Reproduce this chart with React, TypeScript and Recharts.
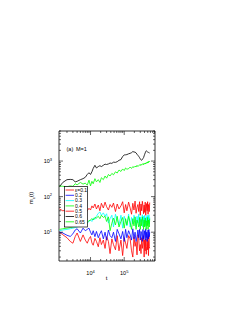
import React from 'react';
import { LineChart, Line, XAxis, YAxis, Legend, ReferenceArea } from 'recharts';

// time points
const T = [
  1200, 1500, 2000, 2500, 3000, 3500, 4000, 5000, 6000, 7000, 8000, 9000, 10000, 11000, 12000, 13500,
  15000, 17000, 19000, 21000, 24000, 27000, 30000, 34000, 38000, 43000, 48000, 55000, 62000, 70000,
  80000, 90000, 100000, 110000, 120000, 135000, 150000, 165000, 180000, 195000, 210000, 225000, 240000,
  255000, 270000, 285000, 300000, 315000, 330000, 345000, 360000, 375000, 390000, 405000, 420000,
  435000, 450000, 465000, 480000, 495000, 510000, 525000, 540000, 555000, 570000,
];

const E01 = [
  10, 8.5, 7, 5.5, 4.9, 7.5, 9.5, 5.5, 8.4, 6, 4.9, 6.5, 7.6, 5, 4.3, 6.7, 5.5, 3.9, 7, 4.5, 6, 3.5, 7.5,
  5.5, 2.5, 6.5, 4.5, 3.2, 8, 3, 6, 2.2, 7, 5, 3.5, 8, 6.5, 3, 2, 7.5, 4, 5.5, 2.3, 8.5, 6.5, 3, 4.5,
  2.5, 7, 3.5, 5, 8, 2, 6, 3, 6.5, 2.4, 4, 7.5, 3.2, 5.5, 2.2, 8, 4, 3.5,
];
const E02 = [
  10, 9.5, 8.2, 7.6, 9, 11.5, 12.5, 9.5, 13, 11, 12, 13, 10, 8.4, 11, 7.5, 10.5, 7, 9, 11, 6.5, 10, 6,
  11.5, 8, 7, 10, 5.5, 12, 9, 6.5, 10.5, 5.5, 12, 7, 11, 8.5, 6, 12.5, 6.5, 10, 5.5, 7.5, 11.5, 7, 12, 6,
  10.5, 9, 5.5, 12, 6.5, 8, 11, 6, 12.5, 7, 10, 5.5, 9, 11.5, 6.5, 12, 7.5, 10,
];
const E03 = [
  11, 11.5, 12, 12.5, 13, 13.5, 14, 15, 16, 17, 18, 20, 22, 20, 25, 23, 28, 34, 37, 30, 35, 28, 33, 18,
  24, 30, 14, 32, 22, 16, 30, 13, 28, 21, 15, 32, 14, 26, 17, 30, 24, 14, 28, 18, 32, 15, 27, 19, 23, 31,
  14, 28, 18, 30, 15, 22, 27, 20, 30, 16, 28, 19, 31, 17, 26,
];
const E04 = [
  12, 12.5, 13, 13.5, 14, 14.5, 15, 16, 17, 18, 19, 21, 22, 24, 22, 26, 25, 28, 24, 30, 26, 28, 20, 27,
  11, 18, 25, 16, 28, 14, 20, 26, 13, 24, 16, 28, 19, 12, 24, 15, 27, 12, 22, 18, 14, 26, 12, 23, 15, 27,
  20, 12, 22, 14, 25, 17, 12, 21, 15, 26, 12, 22, 18, 14, 24,
];
const E05 = [
  45, 40, 42, 38, 44, 40, 46, 42, 48, 44, 40, 47, 42, 55, 48, 62, 45, 58, 40, 65, 48, 70, 52, 42, 60, 50,
  66, 38, 62, 45, 55, 72, 35, 60, 40, 70, 48, 32, 65, 42, 75, 34, 50, 60, 38, 72, 30, 62, 40, 74, 55, 33,
  58, 36, 70, 30, 45, 64, 40, 72, 32, 60, 50, 38, 68,
];
const E06 = [
  190, 250, 300, 305, 300, 260, 270, 300, 320, 350, 420, 470, 420, 500, 620, 760, 640, 700, 740, 700,
  760, 820, 800, 830, 880, 860, 930, 920, 960, 1050, 1100, 1350, 1480, 1500, 1520, 1600, 1650, 1720,
  1850, 1800, 1780, 1700, 1550, 1450, 1350, 1250, 1150, 1080, 1050, 1100, 1180, 1250, 1400, 1550, 1700,
  1850, 1950, 1900, 1850, 1800, 1780, 1750, 1720, 1700, 1680,
];
const E065 = [
  200, 195, 190, 200, 195, 230, 215, 250, 225, 240, 210, 290, 200, 270, 230, 320, 260, 300, 250, 340,
  300, 380, 330, 420, 380, 450, 410, 500, 460, 560, 510, 600, 540, 640, 590, 610, 680, 620, 700, 660,
  720, 680, 760, 700, 740, 790, 750, 820, 770, 800, 850, 790, 860, 820, 880, 830, 900, 870, 940, 880,
  960, 910, 990, 940, 980,
];

const LABELS = ['ε=0.1', '0.2', '0.3', '0.4', '0.5', '0.6', '0.65'];
const COLORS = ['#ff0000', '#0000ff', '#00ffff', '#00ff00', '#ff0000', '#000000', '#00ff00'];
const KEYS = ['e01', 'e02', 'e03', 'e04', 'e05', 'e06', 'e065'];
const VALUES = [E01, E02, E03, E04, E05, E06, E065];

const X_TICKS = [
  2000, 3000, 4000, 5000, 6000, 7000, 8000, 9000, 10000, 20000, 30000, 40000, 50000, 60000, 70000, 80000,
  90000, 100000, 200000, 300000, 400000, 500000, 600000, 700000, 800000,
];
const X_MAJOR: Record<number, string> = { 10000: '4', 100000: '5' };
const Y_TICKS = [
  2, 3, 4, 5, 6, 7, 8, 9, 10, 20, 30, 40, 50, 60, 70, 80, 90, 100, 200, 300, 400, 500, 600, 700, 800,
  900, 1000, 2000, 3000, 4000, 5000, 6000, 7000,
];
const Y_MAJOR: Record<number, string> = { 10: '1', 100: '2', 1000: '3' };

const X_DOMAIN = [1160, 820000];
const Y_DOMAIN = [1.55, 7000];

const data = T.map((t, i) => {
  const row: Record<string, number> = { t };
  KEYS.forEach((k, j) => (row[k] = VALUES[j][i]));
  return row;
});

const PLOT = { left: 59, top: 131, right: 155, bottom: 261 };
const FONT = '"Liberation Sans", Arial, sans-serif';

function XTick(props: any) {
  const { x, payload } = props;
  const exp = X_MAJOR[payload.value];
  const len = exp ? 4 : 2;
  return (
    <g>
      <line x1={x} x2={x} y1={PLOT.bottom} y2={PLOT.bottom - len} stroke="#000" strokeWidth={0.6} />
      <line x1={x} x2={x} y1={PLOT.top} y2={PLOT.top + len} stroke="#000" strokeWidth={0.6} />
      {exp && (
        <text x={x} y={PLOT.bottom + 14} textAnchor="middle" fontSize={5.5} fontFamily={FONT} fill="#000">
          10<tspan dy={-2.5} fontSize={4}>{exp}</tspan>
        </text>
      )}
    </g>
  );
}

function YTick(props: any) {
  const { y, payload } = props;
  const exp = Y_MAJOR[payload.value];
  const len = exp ? 4 : 2;
  return (
    <g>
      <line x1={PLOT.left} x2={PLOT.left + len} y1={y} y2={y} stroke="#000" strokeWidth={0.6} />
      <line x1={PLOT.right} x2={PLOT.right - len} y1={y} y2={y} stroke="#000" strokeWidth={0.6} />
      {exp && (
        <text x={PLOT.left - 7} y={y + 2} textAnchor="end" fontSize={5.5} fontFamily={FONT} fill="#000">
          10<tspan dy={-2.5} fontSize={4}>{exp}</tspan>
        </text>
      )}
    </g>
  );
}

function LegendBox() {
  return (
    <svg width={24} height={42} style={{ display: 'block' }}>
      <rect x={0.5} y={0.5} width={23} height={40.5} fill="#fff" stroke="#000" strokeWidth={0.7} />
      {LABELS.map((label, i) => {
        const y = 4 + i * 5.3;
        return (
          <g key={label}>
            <line x1={1.6} x2={10} y1={y} y2={y} stroke={COLORS[i]} strokeWidth={0.8} />
            <text x={11} y={y + 1.8} fontSize={5} fontFamily={FONT} fill="#000">
              {label}
            </text>
          </g>
        );
      })}
    </svg>
  );
}

export default function App() {
  return (
    <div style={{ position: 'absolute', left: 0, top: 0, width: 240, height: 310, background: '#fff' }}>
      <LineChart
        width={240}
        height={310}
        data={data}
        margin={{ top: PLOT.top, right: 240 - PLOT.right, bottom: 19, left: PLOT.left - 30 }}
      >
        <XAxis
          dataKey="t"
          type="number"
          scale="log"
          domain={X_DOMAIN}
          ticks={X_TICKS}
          interval={0}
          allowDataOverflow
          tick={<XTick />}
          tickLine={false}
          axisLine={false}
          height={30}
        />
        <YAxis
          type="number"
          scale="log"
          domain={Y_DOMAIN}
          ticks={Y_TICKS}
          interval={0}
          allowDataOverflow
          tick={<YTick />}
          tickLine={false}
          axisLine={false}
          width={30}
        />
        {KEYS.map((k, i) => (
          <Line
            key={k}
            type="linear"
            dataKey={k}
            stroke={COLORS[i]}
            strokeWidth={0.8}
            dot={false}
            isAnimationActive={false}
          />
        ))}
        <ReferenceArea
          x1={X_DOMAIN[0]}
          x2={X_DOMAIN[1]}
          y1={Y_DOMAIN[0]}
          y2={Y_DOMAIN[1]}
          fill="none"
          stroke="#000"
          strokeWidth={0.8}
        />
        <Legend
          layout="vertical"
          align="center"
          verticalAlign="middle"
          content={<LegendBox />}
          wrapperStyle={{ position: 'absolute', left: 63.5, top: 186, width: 24, height: 42 }}
        />
        <text x={66.5} y={151} fontSize={5.5} fontFamily={FONT} fill="#000">
          (a)<tspan x={76}>M=1</tspan>
        </text>
        <text
          x={33}
          y={198}
          textAnchor="middle"
          fontSize={6}
          fontFamily={FONT}
          fill="#000"
          transform="rotate(-90 33 198)"
        >
          m<tspan dy={1.5} fontSize={4}>c</tspan>
          <tspan dy={-1.5}>(t)</tspan>
        </text>
        <text x={106.7} y={280} textAnchor="middle" fontSize={6} fontFamily={FONT} fill="#000">
          t
        </text>
      </LineChart>
    </div>
  );
}
